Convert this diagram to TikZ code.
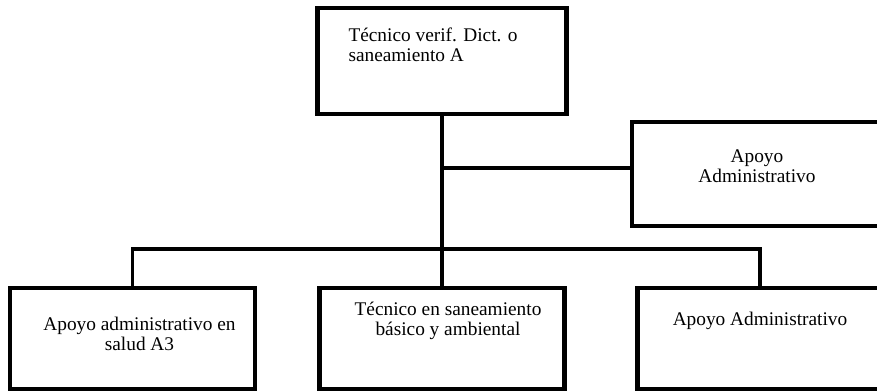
\documentclass[tikz,border=0pt]{standalone}
\usepackage{fontspec}
\setmainfont{Liberation Serif}
\usepackage{tikz}
\usetikzlibrary{positioning}
\tikzset{
% Define standard box, connector and text looks
box/.style={rectangle, draw=black, line width=2.4pt},
link/.style={draw=black, line width=2pt},
boxtext/.style={align=center, font=\fontsize{11}{11.4}\selectfont}
}

\begin{document}
\begin{tikzpicture}[inner sep=0, outer sep=0]
  \useasboundingbox (0,0) rectangle (17.54,7.82);
  \clip (0,0) rectangle (17.54,7.82);

  \node[box,
    anchor=north,
    minimum height = 2.12cm,
    minimum width = 4.98cm] (box0) at (8.84,7.66) {};
  \node[boxtext, align=left, anchor=north west] (box0-text) at ([xshift=0.62cm, yshift=-0.4cm]box0.north west) {Técnico verif. Dict. o\\saneamiento A};

  \node[box,
    anchor=north west,
    minimum height = 2.08cm,
    minimum width = 5cm] (side) at (12.64,5.38) {};
  \node[boxtext] (side-text) at ([yshift=0.16cm]side.center) {Apoyo\\Administrativo};

  \node[box,
    anchor=north,
    minimum height = 2.02cm,
    minimum width = 4.9cm] (box1) at (2.65,2.06) {};
  \node[boxtext] (box1-text) at ([xshift=0.14cm, yshift=0.1cm]box1.center) {Apoyo administrativo en\\salud A3};

  \node[box,
    anchor=north,
    minimum height = 2.02cm,
    minimum width = 4.9cm] (box2) at (8.84,2.06) {};
  \node[boxtext] (box2-text) at ([xshift=0.12cm, yshift=0.36cm]box2.center) {Técnico en saneamiento\\básico y ambiental};

  \node[box,
    anchor=north,
    minimum height = 2.02cm,
    minimum width = 4.9cm] (box3) at (15.2,2.06) {};
  \node[boxtext] (box3-text) at ([yshift=0.36cm]box3.center) {Apoyo Administrativo};

  \coordinate (side-in) at ([yshift=0.12cm]side.west);
  \coordinate (bar) at ([yshift=0.78cm]box2.north);

  \draw[link] (box0.south) -- (box2.north);
  \draw[link] (box0.south |- side-in) -- (side-in);
  \draw[link] (box1.north) -- (box1.north |- bar) -- (box3.north |- bar) -- (box3.north);
\end{tikzpicture}
\end{document}
